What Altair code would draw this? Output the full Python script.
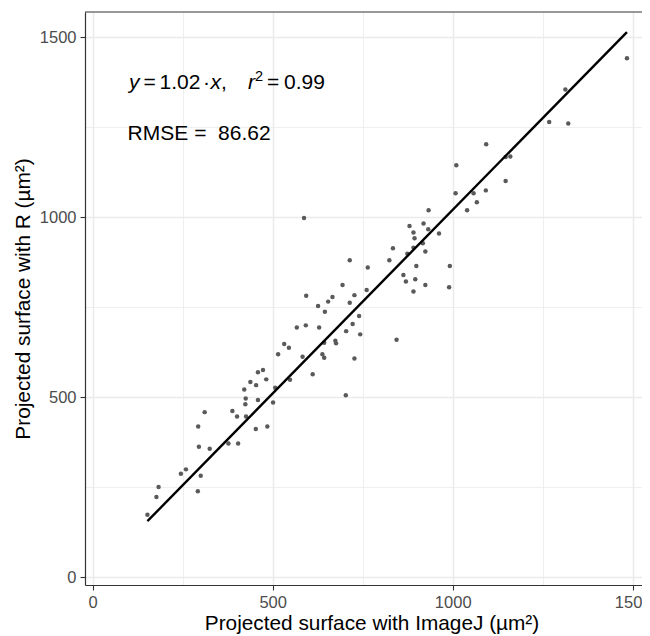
import altair as alt
import pandas as pd

# ---- data ----
imagej = [152, 177, 183, 245, 259, 292, 300, 295, 293, 311, 325, 377, 404, 388, 401, 426,
          424, 425, 421, 438, 454, 459, 453, 485, 501, 507, 482,
          459, 473, 515, 532, 545, 548, 583, 611, 567, 592, 593, 626, 629, 645, 654, 666,
          643, 638, 643, 674, 676, 704, 722, 743, 740, 727, 703, 714, 727, 761,
          587, 714, 694, 764, 844, 824, 834, 863, 870, 874, 880, 891, 894, 891, 899, 896,
          891, 919, 932, 917, 924, 924, 933,
          1093, 1147, 1160, 1147, 1010, 1008, 1058, 1067, 1092, 1040, 962, 992, 990,
          1484, 1313, 1268, 1321]
r_vals = [173, 222, 250, 287, 299, 238, 281, 362, 418, 458, 356, 371, 371, 461, 446, 446,
          480, 496, 521, 542, 533, 492, 411, 418, 485, 526, 549,
          569, 575, 619, 647, 637, 548, 612, 563, 693, 699, 781, 753, 693, 737, 765, 778,
          651, 619, 609, 656, 649, 683, 703, 674, 725, 607, 505, 762, 783, 797,
          997, 880, 811, 860, 659, 880, 913, 839, 821, 898, 975, 957, 941, 915, 864, 827,
          793, 982, 966, 927, 904, 811, 1019,
          1202, 1167, 1168, 1100, 1144, 1066, 1066, 1041, 1074, 1019, 954, 864, 805,
          1441, 1354, 1264, 1260]
slope = 1.02
r2_text = "0.99"
rmse_text = "86.62"
grid_values = [0, 250, 500, 750, 1000, 1250, 1500]
x_title = "Projected surface with ImageJ (µm²)"
y_title = "Projected surface with R (µm²)"

FONT = "Liberation Sans"

pts = pd.DataFrame({"imagej": imagej, "r": r_vals})
line_x = [min(imagej), max(imagej)]
fit = pd.DataFrame({"imagej": line_x, "r": [slope * v for v in line_x]})
ann1 = pd.DataFrame({"imagej": [97], "r": [1355]})
ann2 = pd.DataFrame({"imagej": [97], "r": [1215]})

xscale = alt.Scale(domain=[-21.4, 1525.8], nice=False, zero=False)
yscale = alt.Scale(domain=[-22.2, 1569.5], nice=False, zero=False)

major = "datum.value % 500 === 0"
axis_common = dict(
    values=grid_values, format="d",
    labelExpr=f"{major} ? datum.label : ''",
    labelOverlap=False, labelFlush=False,
    gridColor="#EBEBEB",
    gridWidth={"condition": {"test": major, "value": 1.5}, "value": 0.8},
    tickOpacity={"condition": {"test": major, "value": 1}, "value": 0},
    tickColor="#333333", tickSize=5, tickWidth=1.1,
    domainColor="#333333", domainWidth=1.2,
    labelColor="#4D4D4D", labelFontSize=16.5, labelFont=FONT,
    titleFont=FONT, titleFontSize=20.8, titleFontWeight="normal", titleColor="#000000",
    titleAlign="center", titleBaseline="alphabetic",
)
axis_x = alt.Axis(title=x_title, titleX=286.5, titleY=44.5, labelPadding=4.8, **axis_common)
axis_y = alt.Axis(title=y_title, titleX=-55.5, titleY=286.5, titleAngle=270,
                  labelPadding=4, **axis_common)

X = alt.X("imagej:Q", scale=xscale, axis=axis_x)
Y = alt.Y("r:Q", scale=yscale, axis=axis_y)

points = alt.Chart(pts).mark_circle(size=20, color="#5a5a5a", opacity=1).encode(x=X, y=Y)
line = alt.Chart(fit).mark_line(color="black", strokeWidth=2.4).encode(x=X, y=Y)

top_border = alt.Chart(pd.DataFrame({"k": [0]})).mark_rule(
    color="#333333", strokeWidth=1.2).encode(y=alt.value(0))

pieces = [
    ("y", 1.4, "italic", 21, 0),
    ("=", 15.9, "normal", 21, 0),
    ("1.02", 31.9, "normal", 21, 0),
    ("·", 75.4, "normal", 21, 0),
    ("x", 82.9, "italic", 21, 0),
    (",", 93.4, "normal", 21, 0),
    ("r", 120.4, "italic", 21, 0),
    ("2", 127.4, "normal", 14.5, -8),
    ("=", 139.4, "normal", 21, 0),
    (r2_text, 156.4, "normal", 21, 0),
]
layers = [points, line, top_border]
for txt, dx, style, size, dy in pieces:
    layers.append(
        alt.Chart(ann1).mark_text(
            text=txt, dx=dx, dy=dy, align="left", baseline="alphabetic",
            fontStyle=style, font=FONT, fontSize=size, color="black"
        ).encode(x=X, y=Y)
    )
layers.append(
    alt.Chart(ann2).mark_text(
        text="RMSE = \u00a0" + rmse_text, align="left", baseline="alphabetic",
        font=FONT, fontSize=21, color="black"
    ).encode(x=X, y=Y)
)

chart = alt.layer(*layers).properties(
    width=557, height=573,
    padding={"left": 77, "top": 4, "right": 0, "bottom": 51},
    autosize=alt.AutoSizeParams(type="none"),
    background="white",
).configure_view(stroke=None, strokeWidth=0)

chart.save("out.html", embed_options={"renderer": "svg", "actions": False})
